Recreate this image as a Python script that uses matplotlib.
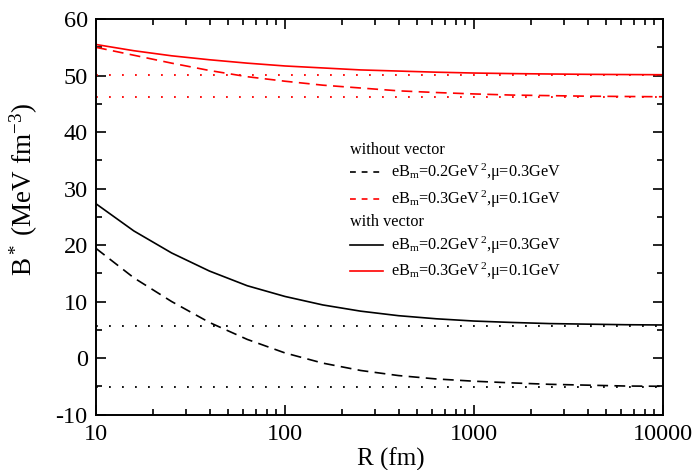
import numpy as np
import matplotlib
matplotlib.use("Agg")
import matplotlib.pyplot as plt
from matplotlib.ticker import FixedLocator, FixedFormatter, MultipleLocator, LogLocator, NullFormatter

plt.rcParams['font.family'] = ['Liberation Serif', 'DejaVu Serif']
plt.rcParams['mathtext.fontset'] = 'custom'
plt.rcParams['mathtext.rm'] = 'Liberation Serif'
plt.rcParams['mathtext.it'] = 'Liberation Serif:italic'
plt.rcParams['mathtext.bf'] = 'Liberation Serif:bold'
plt.rcParams['axes.unicode_minus'] = False

# Data
R = [10, 15.85, 25.12, 39.81, 63.10, 100, 158.5, 251.2, 398.1, 631.0,
     1000, 1585, 2512, 3981, 6310, 10000]
black_with = [27.3, 22.5, 18.6, 15.4, 12.8, 10.9, 9.4, 8.3, 7.5, 6.95,
              6.55, 6.3, 6.1, 6.0, 5.9, 5.85]
black_without = [19.4, 14.2, 10.0, 6.3, 3.3, 0.9, -0.9, -2.2, -3.1, -3.7,
                 -4.1, -4.4, -4.65, -4.8, -4.95, -5.0]
red_with = [55.5, 54.4, 53.5, 52.8, 52.2, 51.7, 51.35, 51.0, 50.8, 50.6,
            50.45, 50.35, 50.28, 50.22, 50.18, 50.15]
red_without = [55.0, 53.6, 52.2, 50.9, 49.8, 49.0, 48.3, 47.8, 47.3, 47.0,
               46.75, 46.55, 46.45, 46.35, 46.3, 46.25]
black_limits = [5.76, -5.07]
red_limits = [50.1, 46.25]
x_ticks = [10, 100, 1000, 10000]
x_tick_labels = ["10", "100", "1000", "10000"]
legend_labels = [r"eB$_{\rm m}$=0.2GeV$^{\,2}$,μ=0.3GeV",
                 r"eB$_{\rm m}$=0.3GeV$^{\,2}$,μ=0.1GeV"]

fig = plt.figure(figsize=(6.96, 4.70), dpi=100)
ax = fig.add_axes([0.138, 0.118, 0.8146, 0.8414])

lw = 1.2
dash = (0, (6.5, 3.8))
dot = (0, (1, 6.2))
ax.plot(R, black_with, color='black', lw=lw)
ax.plot(R, black_without, color='black', lw=lw, linestyle=dash)
ax.plot(R, red_with, color='red', lw=lw)
ax.plot(R, red_without, color='red', lw=lw, linestyle=dash)
for v in black_limits:
    ax.plot([R[0], R[-1]], [v, v], color='black', lw=1.3, linestyle=dot)
for v in red_limits:
    ax.plot([R[0], R[-1]], [v, v], color='red', lw=1.3, linestyle=dot)

ax.set_xscale('log')
ax.set_xlim(10, 10000)
ax.set_ylim(-10, 60)
ax.xaxis.set_major_locator(FixedLocator(x_ticks))
ax.xaxis.set_major_formatter(FixedFormatter(x_tick_labels))
ax.xaxis.set_minor_locator(LogLocator(base=10, subs=np.arange(2, 10)))
ax.xaxis.set_minor_formatter(NullFormatter())
ax.yaxis.set_major_locator(MultipleLocator(10))
ax.yaxis.set_minor_locator(MultipleLocator(5))

ax.tick_params(which='both', direction='in', top=True, right=True, width=1.2, labelsize=17.5)
ax.tick_params(which='major', length=7)
ax.tick_params(which='minor', length=4)
ax.tick_params(axis='x', which='major', pad=7)
ax.tick_params(axis='y', which='major', pad=6)
for s in ax.spines.values():
    s.set_linewidth(1.4)

ax.set_xlabel("R (fm)", fontsize=18)
ax.set_ylabel(r"B$^*$ (MeV fm$^{-3}$)", fontsize=19.5)
ax.xaxis.set_label_coords(0.52, -0.084)
ax.yaxis.set_label_coords(-0.098, 0.57)

# Custom legend (axes coordinates)
tr = ax.transAxes
def fx(px):
    return (px - 96) / (663 - 96)
def fy(py):
    return (414.6 - py) / (414.6 - 19)
fs = 11.7
ax.text(fx(350), fy(150), "without vector", transform=tr, fontsize=fs, va='center', ha='left')
ax.plot([fx(350), fx(382)], [fy(172.3)] * 2, transform=tr, color='black', lw=lw, linestyle=(0, (3.5, 3.5)))
ax.text(fx(391), fy(172.3), legend_labels[0], transform=tr, fontsize=fs, va='center', ha='left')
ax.plot([fx(350), fx(382)], [fy(199)] * 2, transform=tr, color='red', lw=lw, linestyle=(0, (3.5, 3.5)))
ax.text(fx(391), fy(199), legend_labels[1], transform=tr, fontsize=fs, va='center', ha='left')
ax.text(fx(350), fy(222), "with vector", transform=tr, fontsize=fs, va='center', ha='left')
ax.plot([fx(350), fx(383)], [fy(245)] * 2, transform=tr, color='black', lw=lw)
ax.text(fx(391), fy(245), legend_labels[0], transform=tr, fontsize=fs, va='center', ha='left')
ax.plot([fx(350), fx(383)], [fy(271.5)] * 2, transform=tr, color='red', lw=lw)
ax.text(fx(391), fy(271.5), legend_labels[1], transform=tr, fontsize=fs, va='center', ha='left')

fig.savefig("out.png", dpi=100)
